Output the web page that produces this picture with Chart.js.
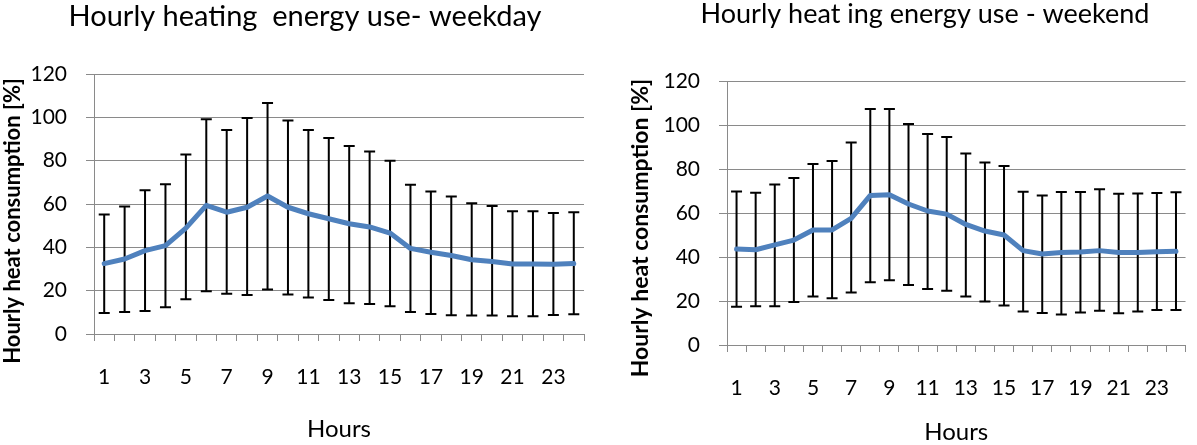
<!DOCTYPE html>
<html>
<head>
<meta charset="utf-8">
<script src="https://cdn.jsdelivr.net/npm/chart.js@4.4.0/dist/chart.umd.min.js"></script>
<style>
  html, body { margin: 0; padding: 0; background: #fff; overflow: hidden; }
  #wrap { position: relative; width: 1197px; height: 445px; overflow: hidden; }
  canvas { position: absolute; top: 0; }
  #weekday { left: 0; }
  #weekend { left: 600px; }
</style>
</head>
<body>
<div id="wrap">
  <canvas id="weekday" width="600" height="445"></canvas>
  <canvas id="weekend" width="600" height="445"></canvas>
</div>
<script>
// Hours of the day (category axis)
const hours = ['1','2','3','4','5','6','7','8','9','10','11','12',
               '13','14','15','16','17','18','19','20','21','22','23','24'];

// Weekday: mean hourly heat consumption [%] with error-bar limits
const weekdayMean  = [32.5, 34.6, 38.5, 40.8, 48.9, 59.4, 56.2, 58.5, 63.7, 58.5, 55.5, 53.2,
                      50.9, 49.4, 46.6, 39.5, 37.7, 36.2, 34.3, 33.5, 32.3, 32.3, 32.2, 32.5];
const weekdayUpper = [55.2, 58.9, 66.3, 69.1, 82.9, 99.1, 94.2, 99.7, 106.6, 98.5, 94.2, 90.5,
                      86.8, 84.2, 80.0, 68.9, 65.8, 63.5, 60.3, 59.1, 56.6, 56.6, 55.8, 56.2];
const weekdayLower = [9.7, 10.2, 10.6, 12.3, 16.0, 19.7, 18.6, 18.0, 20.5, 18.2, 16.8, 15.7,
                      14.2, 13.8, 12.8, 10.2, 9.2, 8.6, 8.5, 8.5, 8.2, 8.2, 8.8, 9.1];

// Weekend: mean hourly heat consumption [%] with error-bar limits
const weekendMean  = [43.6, 43.3, 45.5, 47.7, 52.3, 52.3, 57.6, 68.0, 68.3, 64.1, 60.9, 59.5,
                      54.8, 51.8, 50.0, 42.9, 41.4, 42.0, 42.3, 42.9, 42.0, 42.1, 42.4, 42.6];
const weekendUpper = [69.8, 69.2, 73.0, 75.9, 82.3, 83.6, 92.1, 107.3, 107.3, 100.5, 95.9, 94.5,
                      87.1, 83.0, 81.4, 69.7, 67.9, 69.5, 69.5, 70.8, 68.8, 68.9, 69.1, 69.4];
const weekendLower = [17.4, 17.6, 17.6, 19.5, 22.1, 21.2, 23.9, 28.5, 29.4, 27.3, 25.5, 24.7,
                      22.0, 19.8, 18.0, 15.2, 14.5, 13.9, 14.8, 15.6, 14.4, 15.2, 15.9, 15.9];

// Value axis
const yMin = 0, yMax = 120, yStep = 20;

const FONT = 'Lato';
const GRID = '#8a8a8a';
const LINE = '#4f81bd';

// Vertical error bars with caps, drawn through the chart's own scales
function errorBarPlugin(lower, upper) {
  return {
    id: 'errorBars',
    beforeDatasetsDraw(chart) {
      const { ctx, scales: { x, y } } = chart;
      const cap = 5.5;
      ctx.save();
      ctx.strokeStyle = '#000';
      ctx.lineWidth = 2;
      lower.forEach((lo, i) => {
        const px = x.getPixelForValue(i);
        const yl = y.getPixelForValue(lo);
        const yh = y.getPixelForValue(upper[i]);
        ctx.beginPath();
        ctx.moveTo(px, yl); ctx.lineTo(px, yh);
        ctx.moveTo(px - cap, yl); ctx.lineTo(px + cap, yl);
        ctx.moveTo(px - cap, yh); ctx.lineTo(px + cap, yh);
        ctx.stroke();
      });
      ctx.restore();
    }
  };
}

// Heading and rotated value-axis title
function textPlugin(t) {
  return {
    id: 'texts',
    afterDraw(chart) {
      const ctx = chart.ctx;
      ctx.save();
      ctx.fillStyle = '#000';
      ctx.textAlign = 'center';
      ctx.textBaseline = 'alphabetic';
      ctx.font = t.headSize + 'px ' + FONT;
      ctx.fillText(t.heading, t.headX, t.headY);
      ctx.translate(t.axisX, t.axisY);
      ctx.rotate(-Math.PI / 2);
      ctx.font = 'bold ' + t.axisSize + 'px ' + FONT;
      ctx.fillText('Hourly heat consumption [%]', 0, 0);
      ctx.restore();
    }
  };
}

function makeChart(id, mean, lower, upper, geo, text) {
  const tickFont = { family: FONT, size: 21 };
  return new Chart(document.getElementById(id), {
    type: 'line',
    data: {
      labels: hours,
      datasets: [{
        data: mean,
        borderColor: LINE,
        borderWidth: 5,
        borderJoinStyle: 'round',
        borderCapStyle: 'round',
        pointRadius: 0,
        tension: 0,
        fill: false
      }]
    },
    options: {
      responsive: false,
      animation: false,
      events: [],
      layout: { padding: { top: geo.top, right: geo.right, left: 0, bottom: 0 } },
      plugins: { legend: { display: false }, tooltip: { enabled: false }, title: { display: false } },
      scales: {
        x: {
          type: 'category',
          offset: true,
          grid: { drawOnChartArea: false, drawTicks: true, tickLength: 7, color: GRID, offset: true },
          border: { color: GRID, width: 1 },
          ticks: {
            autoSkip: false, maxRotation: 0, minRotation: 0, padding: geo.xPad,
            color: '#000', font: tickFont,
            callback(value, index) { return index % 2 === 0 ? this.getLabelForValue(value) : ''; }
          },
          title: { display: true, text: 'Hours', color: '#000',
                   font: { family: FONT, size: 24, lineHeight: 1 },
                   padding: { top: 0, bottom: geo.titlePad } },
          afterFit(s) { s.height = geo.xHeight; }
        },
        y: {
          min: yMin, max: yMax,
          grid: { color: GRID, lineWidth: 1, tickLength: 8 },
          border: { color: GRID, width: 1 },
          ticks: { stepSize: yStep, padding: 19, color: '#000', font: tickFont },
          afterFit(s) { s.width = geo.yWidth; }
        }
      }
    },
    plugins: [errorBarPlugin(lower, upper), textPlugin(text)]
  });
}

makeChart('weekday', weekdayMean, weekdayLower, weekdayUpper,
  { top: 74, right: 16, yWidth: 94, xHeight: 111, xPad: 24, titlePad: 3.5 },
  { heading: 'Hourly heating  energy use- weekday', headSize: 29, headX: 305, headY: 26,
    axisSize: 22, axisX: 20, axisY: 221 });

makeChart('weekend', weekendMean, weekendLower, weekendUpper,
  { top: 81, right: 1, yWidth: 127, xHeight: 100, xPad: 24, titlePad: 1 },
  { heading: 'Hourly heat ing energy use - weekend', headSize: 27, headX: 325, headY: 23,
    axisSize: 23, axisX: 48, axisY: 228 });
</script>
</body>
</html>
